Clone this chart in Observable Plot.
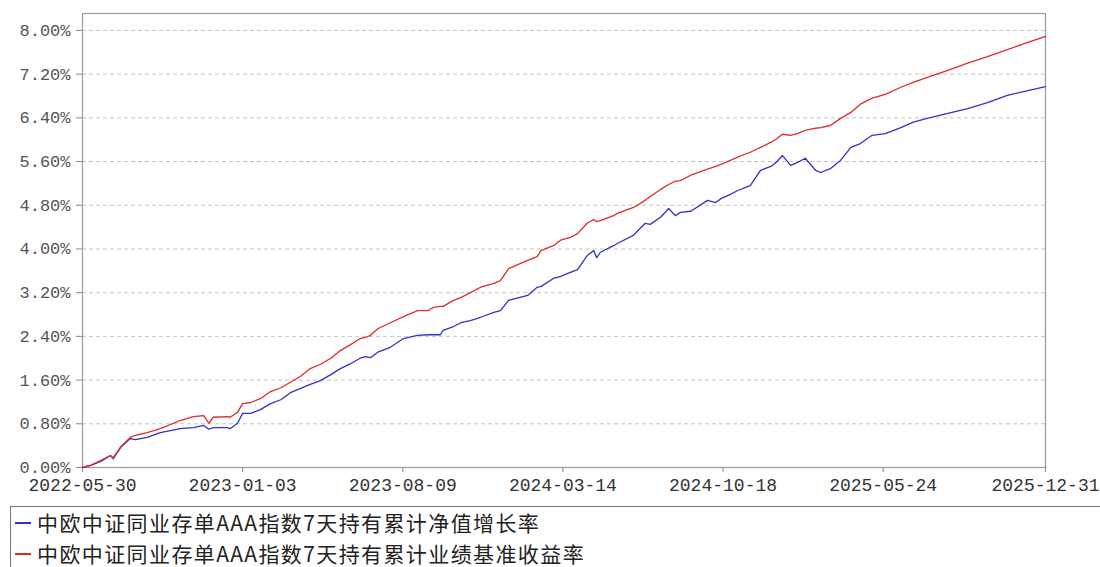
<!DOCTYPE html>
<html>
<head>
<meta charset="utf-8">
<script src="https://cdn.jsdelivr.net/npm/d3@7"></script>
<script src="https://cdn.jsdelivr.net/npm/@observablehq/plot@0.6"></script>
<style>
  html, body { margin: 0; padding: 0; background: #fff; width: 1100px; height: 567px; overflow: hidden; }
  #chart { position: absolute; left: 0; top: 0; }
  #legend {
    position: absolute; left: 10px; top: 506px; width: 1100px; height: 70px;
    border-left: 1px solid #777; border-top: 1px solid #777;
    font-family: "Noto Sans CJK SC", sans-serif; font-size: 21px; letter-spacing: 1.4px; color: #222;
  }
  .row { height: 31px; line-height: 31px; display: flex; align-items: center; white-space: nowrap; }
  .sw { display: inline-block; width: 16px; height: 2px; margin: 0 6px 0 4px; }
</style>
</head>
<body>
<div id="chart"></div>
<div id="legend"></div>
<script>
const seriesNames = ["中欧中证同业存单AAA指数7天持有累计净值增长率", "中欧中证同业存单AAA指数7天持有累计业绩基准收益率"];
const seriesColors = ["#3232c8", "#e02a2a"];

const dates = [
"2022-05-30","2022-06-10","2022-06-24","2022-07-07","2022-07-11","2022-07-21","2022-08-03","2022-08-10","2022-08-26","2022-09-13",
"2022-10-10","2022-10-28","2022-11-11","2022-11-18","2022-11-24","2022-12-13","2022-12-17","2022-12-27","2023-01-03","2023-01-14",
"2023-01-27","2023-02-10","2023-02-24","2023-03-09","2023-03-23","2023-04-05","2023-04-19","2023-05-03","2023-05-16","2023-05-30",
"2023-06-12","2023-06-19","2023-06-26","2023-07-06","2023-07-23","2023-08-10","2023-08-29","2023-09-12","2023-09-20","2023-09-29",
"2023-10-03","2023-10-17","2023-10-27","2023-11-09","2023-11-23","2023-12-11","2023-12-20","2023-12-31","2024-01-26","2024-02-08",
"2024-02-13","2024-03-01","2024-03-11","2024-03-24","2024-04-03","2024-04-16","2024-04-25","2024-04-29","2024-05-04","2024-05-22",
"2024-05-27","2024-06-18","2024-07-04","2024-07-11","2024-07-25","2024-08-05","2024-08-14","2024-08-21","2024-09-04","2024-09-27",
"2024-10-08","2024-10-15","2024-10-28","2024-11-07","2024-11-24","2024-12-08","2024-12-22","2024-12-28","2025-01-07","2025-01-18",
"2025-01-27","2025-02-07","2025-02-21","2025-02-28","2025-03-13","2025-03-27","2025-04-10","2025-04-23","2025-05-09","2025-05-27",
"2025-06-17","2025-07-04","2025-07-23","2025-08-20","2025-09-16","2025-10-13","2025-11-09","2025-12-07","2025-12-31"
];

const navGrowth = [
0.00,0.04,0.11,0.22,0.16,0.37,0.53,0.51,0.55,0.64,
0.71,0.73,0.77,0.70,0.73,0.73,0.71,0.81,0.99,0.99,
1.06,1.17,1.24,1.37,1.45,1.52,1.59,1.70,1.81,1.90,
2.00,2.03,2.01,2.11,2.20,2.36,2.42,2.43,2.43,2.43,
2.51,2.58,2.65,2.69,2.75,2.84,2.87,3.06,3.15,3.30,
3.31,3.46,3.50,3.57,3.62,3.88,3.97,3.84,3.94,4.06,
4.10,4.25,4.47,4.45,4.58,4.74,4.61,4.67,4.69,4.89,
4.85,4.92,5.00,5.07,5.16,5.44,5.51,5.57,5.71,5.53,
5.58,5.66,5.44,5.40,5.47,5.62,5.86,5.93,6.08,6.11,
6.22,6.32,6.39,6.48,6.57,6.68,6.81,6.90,6.97
];

const benchmark = [
0.00,0.04,0.13,0.22,0.18,0.38,0.55,0.59,0.64,0.71,
0.86,0.93,0.95,0.81,0.92,0.93,0.92,1.01,1.17,1.19,
1.26,1.39,1.46,1.56,1.67,1.81,1.89,2.00,2.14,2.25,
2.36,2.38,2.42,2.54,2.65,2.76,2.87,2.87,2.93,2.95,
2.95,3.06,3.11,3.20,3.30,3.37,3.42,3.64,3.79,3.86,
3.97,4.06,4.16,4.21,4.28,4.47,4.54,4.50,4.52,4.61,
4.65,4.76,4.89,4.96,5.09,5.18,5.24,5.25,5.35,5.46,
5.51,5.55,5.62,5.68,5.77,5.86,5.95,6.00,6.10,6.08,
6.11,6.17,6.21,6.22,6.26,6.39,6.50,6.65,6.76,6.83,
6.96,7.05,7.14,7.27,7.40,7.52,7.65,7.78,7.89
];

const xTickLabels = ["2022-05-30","2023-01-03","2023-08-09","2024-03-14","2024-10-18","2025-05-24","2025-12-31"];
const yTickValues = [0, 0.8, 1.6, 2.4, 3.2, 4.0, 4.8, 5.6, 6.4, 7.2, 8.0];

const parse = d3.utcParse("%Y-%m-%d");
const rows = [];
[navGrowth, benchmark].forEach((vals, s) => {
  vals.forEach((v, i) => rows.push({date: parse(dates[i]), value: v, series: seriesNames[s]}));
});
const xTicks = xTickLabels.map(parse);

const chart = Plot.plot({
  width: 1100,
  height: 505,
  marginLeft: 82,
  marginRight: 55,
  marginTop: 13,
  marginBottom: 38,
  style: {background: "#fff", overflow: "visible"},
  x: {type: "utc", domain: [parse("2022-05-30"), parse("2025-12-31")]},
  y: {domain: [0, 8.31]},
  color: {domain: seriesNames, range: seriesColors},
  marks: [
    Plot.gridY(yTickValues, {stroke: "#c4c4c4", strokeOpacity: 1, strokeDasharray: "4,3", strokeWidth: 1}),
    Plot.frame({stroke: "#9a9a9a", strokeWidth: 1.2}),
    Plot.axisY(yTickValues, {
      tickSize: 6, tickPadding: 6, stroke: "#888", fill: "#555",
      tickFormat: d => d.toFixed(2) + "%",
      fontSize: 17, fontFamily: "Liberation Mono, monospace", label: null
    }),
    Plot.axisX(xTicks, {
      tickSize: 5, tickPadding: 6, stroke: "#888", fill: "#333",
      tickFormat: d3.utcFormat("%Y-%m-%d"),
      fontSize: 18, fontFamily: "Liberation Mono, monospace", label: null
    }),
    Plot.line(rows, {x: "date", y: "value", z: "series", stroke: "series", strokeWidth: 1.3})
  ]
});
document.getElementById("chart").appendChild(chart);

const legend = document.getElementById("legend");
seriesNames.forEach((name, i) => {
  const row = document.createElement("div");
  row.className = "row";
  const sw = document.createElement("span");
  sw.className = "sw";
  sw.style.background = seriesColors[i];
  const t = document.createElement("span");
  t.textContent = name;
  row.appendChild(sw);
  row.appendChild(t);
  legend.appendChild(row);
});
</script>
</body>
</html>
